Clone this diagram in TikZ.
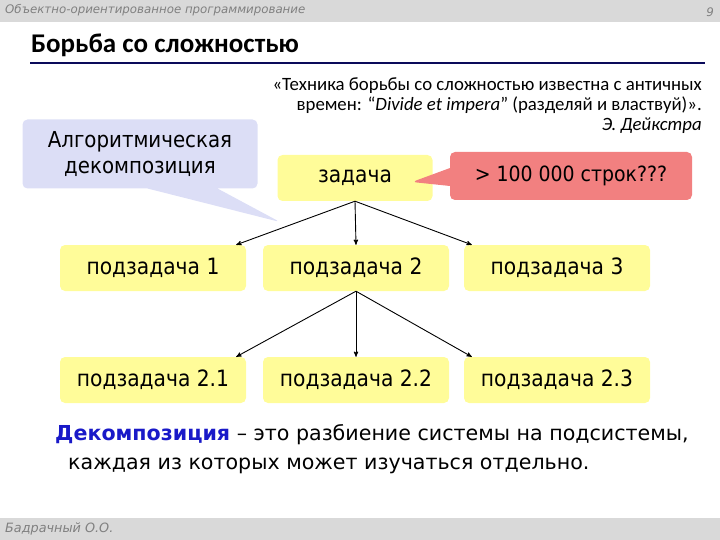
\documentclass[tikz,border=0pt]{standalone}
\usepackage{fontspec}
\setmainfont{Carlito}
\newfontfamily\boxfont{DejaVu Sans Condensed}
\newfontfamily\wfont{DejaVu Sans}
\usetikzlibrary{arrows,shapes.callouts}
\definecolor{zyellow}{RGB}{255,252,153}
\definecolor{zred}{RGB}{242,128,128}
\definecolor{zblue}{RGB}{220,222,246}
\definecolor{zgray}{RGB}{217,217,217}
\definecolor{znavy}{RGB}{10,10,90}
\definecolor{zterm}{RGB}{25,25,200}
\tikzstyle{zbox}=[rectangle, rounded corners=5pt, fill=zyellow, minimum width=186pt, minimum height=46pt, inner sep=2pt, font=\boxfont\fontsize{22.5}{24}\selectfont]
\tikzstyle{zpost}=[->, >=stealth', line width=0.9pt, black]
\tikzstyle{zhead}=[font=\wfont\itshape\fontsize{11.8}{12}\selectfont, text=black!50, inner sep=0pt]

\begin{document}
\begin{tikzpicture}[x=1pt,y=-1pt]
  \useasboundingbox (0,0) rectangle (720,540);
  % header and footer
  \fill[zgray] (0,0) rectangle (720,22);
  \fill[zgray] (0,518) rectangle (720,540);
  \node[zhead, anchor=west] (course) at (5,10) {Объектно-ориентированное программирование};
  \node[zhead, anchor=east] (pagenum) at (714,12) {9};
  \node[zhead, anchor=west, font=\wfont\itshape\fontsize{12.8}{13}\selectfont] (author) at (5,529) {Бадрачный О.О.};
  \node[anchor=west, inner sep=0pt, font=\bfseries\fontsize{27}{30}\selectfont] (title) at (31,45) {Борьба со сложностью};
  \draw[znavy, line width=2.5pt] (30,63) -- (705,63);

  \node[anchor=north east, align=right, inner sep=0pt, font=\fontsize{18.8}{20}\selectfont] (quote) at (702,78)
    {«Техника борьбы со сложностью известна с античных\\
     времен: “\textit{Divide et impera}” (разделяй и властвуй)».\\
     \textit{Э. Дейкстра}};

  \node[zbox, minimum width=155pt] (task) at (355,178) {задача};
  \node[zbox] (sub1) at (153,268) {подзадача 1};
  \node[zbox] (sub2) at (356,268) {подзадача 2};
  \node[zbox] (sub3) at (557,268) {подзадача 3};
  \node[zbox] (sub21) at (153,380) {подзадача 2.1};
  \node[zbox] (sub22) at (356,380) {подзадача 2.2};
  \node[zbox] (sub23) at (557,380) {подзадача 2.3};

  \node[rectangle callout, rounded corners=5pt, fill=zblue, align=center, minimum width=235pt, minimum height=69pt,
        callout absolute pointer={(280,222)}, callout pointer width=70pt,
        font=\boxfont\fontsize{22}{26}\selectfont] (algo) at (140,154)
    {Алгоритмическая\\декомпозиция};
  \node[rectangle callout, rounded corners=5pt, fill=zred, minimum width=242pt, minimum height=48pt,
        callout absolute pointer={(412,182)}, callout pointer width=18pt,
        font=\boxfont\fontsize{21}{24}\selectfont] (lines) at (571,176)
    {> 100 000 строк???};

  %\tikzstyle{zpost}=[->]
  \draw[zpost] (task.south) -- ([xshift=-10pt]sub1.north east);
  \draw[zpost] (task.south) -- (sub2.north);
  \draw[zpost] (task.south) -- ([xshift=8pt]sub3.north west);
  \draw[zpost] (sub2.south) -- ([xshift=-10pt]sub21.north east);
  \draw[zpost] (sub2.south) -- (sub22.north);
  \draw[zpost] (sub2.south) -- ([xshift=8pt]sub23.north west);

  \node[anchor=north west, align=left, inner sep=0pt, font=\wfont\fontsize{20.6}{29}\selectfont] (defn) at (55,424)
    {\textcolor{zterm}{\bfseries Декомпозиция} – это разбиение системы на подсистемы,\\
     \hspace*{13pt}каждая из которых может изучаться отдельно.};
\end{tikzpicture}
\end{document}
